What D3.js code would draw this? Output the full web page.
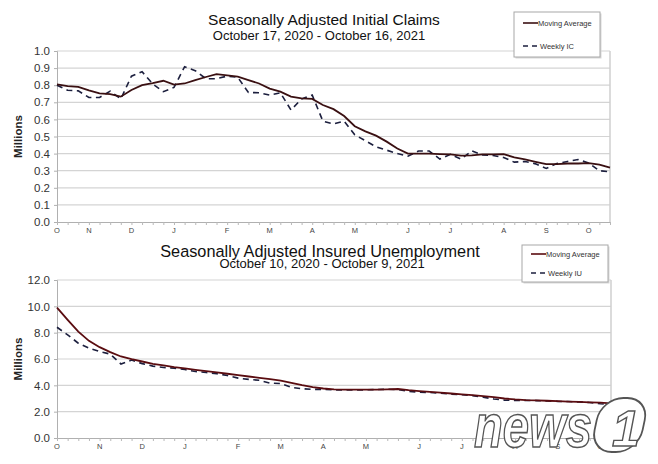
<!DOCTYPE html>
<html><head><meta charset="utf-8">
<script src="https://cdn.jsdelivr.net/npm/d3@7"></script>
<style>body{margin:0;background:#fff}svg{display:block}text{font-family:"Liberation Sans",Arial,sans-serif}</style>
</head><body><svg id="c" width="658" height="464"></svg>
<script>
// ---------- DATA ----------
const monthLabels = ["O","N","D","J","F","M","A","M","J","J","A","S","O"];
const icMonthWeeks = [0,3,7,11,16,20,24,28,33,37,42,46,50];
const iuMonthWeeks = [0,4,8,12,17,21,25,29,34,38,43,47,51];
const icYTicks = [0.0,0.1,0.2,0.3,0.4,0.5,0.6,0.7,0.8,0.9,1.0];
const iuYTicks = [0,2,4,6,8,10,12];

const icMovingAverage = [0.805,0.795,0.79,0.77,0.752,0.748,0.733,0.772,0.80,0.812,0.826,0.803,0.81,0.83,0.848,0.865,0.857,0.85,0.83,0.81,0.78,0.762,0.733,0.723,0.72,0.684,0.66,0.62,0.56,0.53,0.505,0.47,0.43,0.40,0.40,0.40,0.397,0.395,0.388,0.39,0.396,0.396,0.397,0.378,0.366,0.352,0.338,0.338,0.342,0.342,0.344,0.336,0.318];
const icWeekly = [0.80,0.77,0.767,0.728,0.728,0.765,0.72,0.853,0.879,0.807,0.762,0.787,0.908,0.885,0.838,0.838,0.853,0.846,0.757,0.756,0.742,0.756,0.655,0.72,0.742,0.59,0.573,0.59,0.51,0.475,0.44,0.42,0.40,0.385,0.415,0.415,0.368,0.396,0.368,0.416,0.392,0.389,0.377,0.35,0.354,0.34,0.313,0.342,0.354,0.365,0.345,0.30,0.293];
const iuMovingAverage = [9.9,8.97,8.08,7.38,6.9,6.52,6.19,5.99,5.81,5.63,5.51,5.38,5.28,5.18,5.08,4.98,4.88,4.77,4.67,4.57,4.47,4.35,4.19,4.02,3.87,3.76,3.69,3.68,3.67,3.67,3.68,3.70,3.72,3.63,3.56,3.50,3.44,3.38,3.32,3.26,3.18,3.10,3.00,2.93,2.88,2.85,2.83,2.80,2.77,2.74,2.71,2.68,2.63];
const iuWeekly = [8.41,7.83,7.2,6.82,6.57,6.37,5.62,5.92,5.65,5.46,5.36,5.3,5.2,5.05,4.98,4.88,4.75,4.55,4.45,4.38,4.17,4.14,3.84,3.74,3.69,3.69,3.65,3.66,3.65,3.66,3.68,3.70,3.68,3.55,3.48,3.46,3.40,3.33,3.28,3.22,3.10,2.96,2.88,2.85,2.86,2.84,2.82,2.78,2.77,2.74,2.70,2.60,2.55];

const svg = d3.select("#c");
svg.append("rect").attr("width",658).attr("height",464).attr("fill","#fff");

function panel(cfg){
  const g = svg.append("g");
  const x = d3.scaleLinear().domain([0, cfg.ma.length-1]).range([cfg.left, cfg.right]);
  const y = d3.scaleLinear().domain([cfg.yTicks[0], cfg.yTicks[cfg.yTicks.length-1]]).range([cfg.bottom, cfg.top]);
  g.selectAll(".grid").data(cfg.yTicks.slice(1)).join("line")
    .attr("x1",cfg.left).attr("x2",cfg.right).attr("y1",d=>y(d)).attr("y2",d=>y(d))
    .attr("stroke","#d4d4d4").attr("stroke-width",1.2);
  g.append("line").attr("x1",cfg.right).attr("x2",cfg.right).attr("y1",cfg.top).attr("y2",cfg.bottom)
    .attr("stroke","#cfcfcf").attr("stroke-width",1.5);
  const ya = d3.axisLeft(y).tickValues(cfg.yTicks).tickFormat(d3.format(".1f")).tickSize(3).tickPadding(4);
  const yg = g.append("g").attr("transform",`translate(${cfg.left},0)`).call(ya);
  yg.select(".domain").attr("stroke","#b0b0b0");
  yg.selectAll(".tick line").attr("stroke","#b0b0b0");
  yg.selectAll("text").attr("font-size",11.5).attr("fill","#333").attr("font-family","Liberation Sans, Arial, sans-serif");
  const xa = d3.axisBottom(x).tickValues(d3.range(cfg.ma.length)).tickFormat("").tickSize(3);
  const xg = g.append("g").attr("transform",`translate(0,${cfg.bottom})`).call(xa);
  xg.select(".domain").attr("stroke","#b0b0b0");
  xg.selectAll(".tick line").attr("stroke","#b8b8b8");
  g.selectAll(".mlab").data(cfg.monthWeeks).join("text")
    .attr("x",d=>x(d)).attr("y",cfg.bottom+11).attr("text-anchor","middle")
    .attr("font-size",7.5).attr("fill","#444").text((d,i)=>monthLabels[i]);
  g.append("text").attr("transform",`translate(${cfg.millX},${(cfg.top+cfg.bottom)/2}) rotate(-90)`)
    .attr("text-anchor","middle").attr("font-size",11.5).attr("font-weight","bold").attr("fill","#222").text("Millions");
  const line = d3.line().x((d,i)=>x(i)).y(d=>y(d));
  g.append("path").datum(cfg.weekly).attr("d",line).attr("fill","none")
    .attr("stroke",cfg.wColor).attr("stroke-width",1.6).attr("stroke-dasharray","6,4.5");
  g.append("path").datum(cfg.ma).attr("d",line).attr("fill","none")
    .attr("stroke",cfg.maColor).attr("stroke-width",1.8);
  g.append("text").attr("x",cfg.tx).attr("y",cfg.ty).attr("text-anchor","middle")
    .attr("font-size",cfg.tSize).attr("fill","#111").text(cfg.title);
  g.append("text").attr("x",cfg.sx).attr("y",cfg.sy).attr("text-anchor","middle")
    .attr("font-size",cfg.sSize).attr("fill","#111").text(cfg.subtitle);
  const L = cfg.legend;
  g.append("rect").attr("x",L.x+1.5).attr("y",L.y+1.5).attr("width",L.w).attr("height",L.h).attr("fill","#d8d8d8");
  g.append("rect").attr("x",L.x).attr("y",L.y).attr("width",L.w).attr("height",L.h).attr("fill","#fff").attr("stroke","#a8a8a8");
  g.append("line").attr("x1",L.x+9).attr("x2",L.x+24).attr("y1",L.y1).attr("y2",L.y1)
    .attr("stroke",cfg.maColor).attr("stroke-width",1.6);
  g.append("text").attr("x",L.x+24).attr("y",L.y1+2.5).attr("font-size",7.5).attr("fill","#333").text("Moving Average");
  g.append("line").attr("x1",L.x+9).attr("x2",L.x+24).attr("y1",L.y2).attr("y2",L.y2)
    .attr("stroke",cfg.wColor).attr("stroke-width",1.6).attr("stroke-dasharray","5,4");
  g.append("text").attr("x",L.x+26).attr("y",L.y2+2.5).attr("font-size",7.5).attr("fill","#333").text(cfg.wName);
}

panel({left:57,right:610,top:51,bottom:222,yTicks:icYTicks,ma:icMovingAverage,weekly:icWeekly,
  monthWeeks:icMonthWeeks,millX:22,maColor:"#3a1012",wColor:"#1c1f3e",
  title:"Seasonally Adjusted Initial Claims",tx:324,ty:25,tSize:15.5,
  subtitle:"October 17, 2020 - October 16, 2021",sx:319,sy:40,sSize:13,
  legend:{x:514,y:12,w:86,h:45,y1:23,y2:46},wName:"Weekly IC"});

panel({left:57,right:611,top:280,bottom:438,yTicks:iuYTicks,ma:iuMovingAverage,weekly:iuWeekly,
  monthWeeks:iuMonthWeeks,millX:22,maColor:"#5a0c10",wColor:"#1c1f3e",
  title:"Seasonally Adjusted Insured Unemployment",tx:320,ty:257,tSize:16.3,
  subtitle:"October 10, 2020 - October 9, 2021",sx:322,sy:268,sSize:13,
  legend:{x:522,y:245,w:86,h:37,y1:254,y2:273},wName:"Weekly IU"});

// watermark logo
const wm = svg.append("g");
wm.append("text").attr("x",474).attr("y",447).attr("font-size",62).attr("font-style","italic")
  .attr("font-weight","bold").attr("fill","#fff").attr("stroke","#555").attr("stroke-width",1.6)
  .attr("textLength",118).attr("lengthAdjust","spacingAndGlyphs").text("news");
wm.append("rect").attr("x",596).attr("y",398).attr("width",48).attr("height",54).attr("rx",22)
  .attr("transform","skewX(-12) translate(90,0)")
  .attr("fill","#fff").attr("stroke","#555").attr("stroke-width",1.8);
wm.append("text").attr("x",612).attr("y",446).attr("font-size",50).attr("font-style","italic")
  .attr("font-weight","bold").attr("fill","#fff").attr("stroke","#555").attr("stroke-width",1.4).text("1");
</script></body></html>
